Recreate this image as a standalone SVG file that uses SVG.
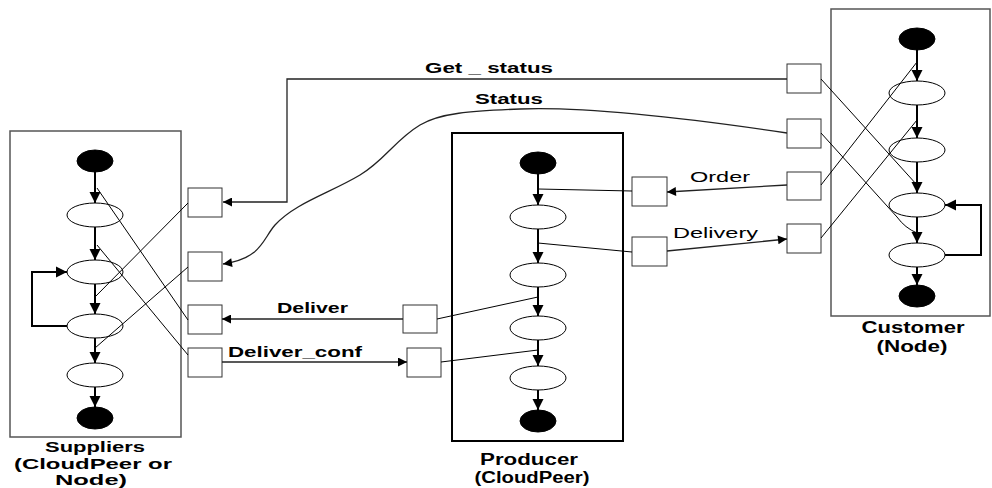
<svg xmlns="http://www.w3.org/2000/svg" width="992" height="488" viewBox="0 0 992 488">
  <style>
    .box { fill: none; stroke: #555; stroke-width: 1.5; }
    .box-strong { fill: none; stroke: #000; stroke-width: 2; }
    .terminal { fill: #000; stroke: #000; }
    .activity { fill: #fff; stroke: #000; stroke-width: 1; }
    .port { fill: #fff; stroke: #333; stroke-width: 1; }
    .flow { fill: none; stroke: #000; stroke-width: 2; marker-end: url(#head); }
    .loop { fill: none; stroke: #000; stroke-width: 2; marker-end: url(#head); }
    .wire { fill: none; stroke: #000; stroke-width: 1; }
    .msg { fill: none; stroke: #222; stroke-width: 1.3; marker-end: url(#msghead); }
    .title { font-family: "Liberation Sans", Arial, sans-serif; font-weight: bold; font-size: 16px; fill: #000; text-anchor: middle; }
    .title-s { font-family: "Liberation Sans", Arial, sans-serif; font-weight: bold; font-size: 15px; fill: #000; text-anchor: middle; }
    .label-b { font-family: "Liberation Sans", Arial, sans-serif; font-weight: bold; font-size: 15px; fill: #000; }
    .label { font-family: "Liberation Sans", Arial, sans-serif; font-size: 15px; fill: #000; }
  </style>
  <defs>
    <marker id="head" viewBox="0 0 10 10" refX="10" refY="5" markerWidth="11" markerHeight="12" markerUnits="userSpaceOnUse" orient="auto">
      <path d="M0,0 L10,5 L0,10 z" fill="#000"/>
    </marker>
    <marker id="msghead" viewBox="0 0 10 10" refX="10" refY="5" markerWidth="13" markerHeight="9" markerUnits="userSpaceOnUse" orient="auto">
      <path d="M0,0 L10,5 L0,10 z" fill="#000"/>
    </marker>
  </defs>

  <!-- Suppliers process -->
  <g id="suppliers">
    <rect class="box" x="10" y="131" width="171" height="306"/>
    <ellipse class="terminal" cx="95" cy="161" rx="18" ry="11"/>
    <ellipse class="activity" cx="95" cy="215" rx="28" ry="12"/>
    <ellipse class="activity" cx="95" cy="272" rx="28" ry="12"/>
    <ellipse class="activity" cx="95" cy="326" rx="28" ry="12"/>
    <ellipse class="activity" cx="95" cy="375" rx="28" ry="12"/>
    <ellipse class="terminal" cx="95" cy="418" rx="18" ry="11"/>
    <line class="flow" x1="95" y1="172" x2="95" y2="203"/>
    <line class="flow" x1="95" y1="227" x2="95" y2="260"/>
    <line class="flow" x1="95" y1="284" x2="95" y2="314"/>
    <line class="flow" x1="95" y1="338" x2="95" y2="363"/>
    <line class="flow" x1="95" y1="387" x2="95" y2="407"/>
    <path class="loop" d="M67,326 H32 V272 H67"/>
    <text class="title-s" x="95" y="452" textLength="100" lengthAdjust="spacingAndGlyphs">Suppliers</text>
    <text class="title-s" x="93" y="469" textLength="158" lengthAdjust="spacingAndGlyphs">(CloudPeer or</text>
    <text class="title-s" x="91" y="485" textLength="72" lengthAdjust="spacingAndGlyphs">Node)</text>
  </g>

  <!-- Producer process -->
  <g id="producer">
    <rect class="box-strong" x="452" y="133" width="171" height="308"/>
    <ellipse class="terminal" cx="538" cy="163" rx="18" ry="11"/>
    <ellipse class="activity" cx="538" cy="217" rx="28" ry="12"/>
    <ellipse class="activity" cx="538" cy="275" rx="28" ry="12"/>
    <ellipse class="activity" cx="538" cy="328" rx="28" ry="12"/>
    <ellipse class="activity" cx="538" cy="378" rx="28" ry="12"/>
    <ellipse class="terminal" cx="538" cy="421" rx="18" ry="11"/>
    <line class="flow" x1="538" y1="174" x2="538" y2="205"/>
    <line class="flow" x1="538" y1="229" x2="538" y2="263"/>
    <line class="flow" x1="538" y1="287" x2="538" y2="316"/>
    <line class="flow" x1="538" y1="340" x2="538" y2="366"/>
    <line class="flow" x1="538" y1="390" x2="538" y2="410"/>
    <text class="title" x="529" y="465" textLength="98" lengthAdjust="spacingAndGlyphs">Producer</text>
    <text class="title" x="532" y="483" textLength="115" lengthAdjust="spacingAndGlyphs">(CloudPeer)</text>
  </g>

  <!-- Customer process -->
  <g id="customer">
    <rect class="box" x="831" y="9" width="159" height="307"/>
    <ellipse class="terminal" cx="917" cy="39" rx="18" ry="11"/>
    <ellipse class="activity" cx="917" cy="93" rx="28" ry="12"/>
    <ellipse class="activity" cx="917" cy="150" rx="28" ry="12"/>
    <ellipse class="activity" cx="917" cy="205" rx="28" ry="12"/>
    <ellipse class="activity" cx="917" cy="255" rx="28" ry="12"/>
    <ellipse class="terminal" cx="917" cy="296" rx="18" ry="11"/>
    <line class="flow" x1="917" y1="50" x2="917" y2="81"/>
    <line class="flow" x1="917" y1="105" x2="917" y2="138"/>
    <line class="flow" x1="917" y1="162" x2="917" y2="193"/>
    <line class="flow" x1="917" y1="217" x2="917" y2="243"/>
    <line class="flow" x1="917" y1="267" x2="917" y2="285"/>
    <path class="loop" d="M945,255 H981 V205 H945"/>
    <text class="title" x="913" y="333" textLength="103" lengthAdjust="spacingAndGlyphs">Customer</text>
    <text class="title" x="912" y="352" textLength="71" lengthAdjust="spacingAndGlyphs">(Node)</text>
  </g>

  <!-- Ports -->
  <g id="ports">
    <rect class="port" x="188" y="188" width="34" height="29"/>
    <rect class="port" x="188" y="252" width="34" height="29"/>
    <rect class="port" x="188" y="305" width="34" height="29"/>
    <rect class="port" x="188" y="348" width="34" height="29"/>
    <rect class="port" x="403" y="305" width="34" height="28"/>
    <rect class="port" x="407" y="348" width="34" height="29"/>
    <rect class="port" x="632" y="177" width="35" height="29"/>
    <rect class="port" x="632" y="237" width="35" height="29"/>
    <rect class="port" x="787" y="64" width="34" height="29"/>
    <rect class="port" x="787" y="119" width="34" height="29"/>
    <rect class="port" x="787" y="172" width="34" height="28"/>
    <rect class="port" x="787" y="224" width="34" height="29"/>
  </g>

  <!-- Connectors -->
  <g id="connectors">
    <!-- port-to-flow wiring -->
    <line class="wire" x1="188" y1="203" x2="95" y2="297"/>
    <line class="wire" x1="188" y1="267" x2="95" y2="348"/>
    <line class="wire" x1="97" y1="188" x2="188" y2="320"/>
    <line class="wire" x1="97" y1="245" x2="188" y2="355"/>
    <line class="wire" x1="632" y1="191" x2="538" y2="189"/>
    <line class="wire" x1="632" y1="252" x2="538" y2="243"/>
    <line class="wire" x1="437" y1="319" x2="538" y2="297"/>
    <line class="wire" x1="441" y1="362" x2="538" y2="350"/>
    <line class="wire" x1="821" y1="79" x2="917" y2="185"/>
    <path class="wire" d="M821,133 L897,217 Q905,228 917,233"/>
    <line class="wire" x1="821" y1="185" x2="917" y2="62"/>
    <line class="wire" x1="821" y1="238" x2="917" y2="120"/>

    <!-- messages -->
    <path class="msg" d="M787,79 H287 V202 H223"/>
    <path class="msg" d="M787,133 C740,126 600,106 520,109 C470,111 440,113 420,125 C395,140 385,160 360,175 C330,193 295,203 275,225 C262,240 262,258 223,264"/>
    <path class="msg" d="M787,185 L667,192"/>
    <path class="msg" d="M667,251 L787,239"/>
    <path class="msg" d="M403,319 H222"/>
    <path class="msg" d="M222,362 H407"/>

    <text class="label-b" x="425" y="73" textLength="128" lengthAdjust="spacingAndGlyphs">Get _ status</text>
    <text class="label-b" x="475" y="104" textLength="68" lengthAdjust="spacingAndGlyphs">Status</text>
    <text class="label" x="690" y="182" textLength="60" lengthAdjust="spacingAndGlyphs">Order</text>
    <text class="label" x="673" y="238" textLength="85" lengthAdjust="spacingAndGlyphs">Delivery</text>
    <text class="label-b" x="277" y="313" textLength="71" lengthAdjust="spacingAndGlyphs">Deliver</text>
    <text class="label-b" x="228" y="357" textLength="134" lengthAdjust="spacingAndGlyphs">Deliver_conf</text>
  </g>
</svg>
